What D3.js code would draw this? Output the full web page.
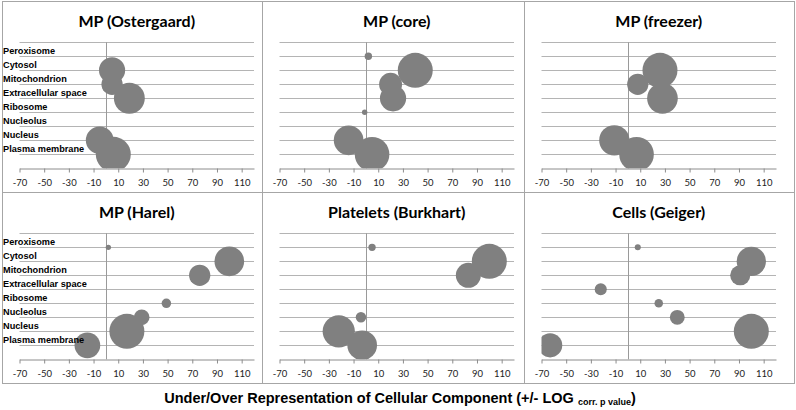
<!DOCTYPE html>
<html>
<head>
<meta charset="UTF-8">
<title>Under/Over Representation of Cellular Component</title>
<script src="https://d3js.org/d3.v7.min.js"></script>
<style>
  body { margin: 0; padding: 0; background: #fff; }
  .title { font-family: Lato, "Open Sans", sans-serif; font-weight: bold; font-size: 16px; fill: #000; }
  .tick text { font-family: Lato, sans-serif; font-size: 9.5px; fill: #222; }
  .cat { font-family: "Liberation Sans", Arial, sans-serif; font-weight: bold; font-size: 9.2px; fill: #000; }
  .axis-title { font-family: "Liberation Sans", Arial, sans-serif; font-weight: bold; font-size: 14.5px; fill: #000; }
</style>
</head>
<body>
<svg id="chart" width="796" height="410"></svg>
<script>
// categories from top to bottom, with their level on the y axis
const categories = ["Peroxisome", "Cytosol", "Mitochondrion", "Extracellular space",
                    "Ribosome", "Nucleolus", "Nucleus", "Plasma membrane"];
const catLevel = [8, 7, 6, 5, 4, 3, 2, 1];
const titles = ["MP (Ostergaard)", "MP (core)", "MP (freezer)",
                "MP (Harel)", "Platelets (Burkhart)", "Cells (Geiger)"];
const xTicks = [-70, -50, -30, -10, 10, 30, 50, 70, 90, 110];

// x = +/- log corr. p value, size = bubble size (null = not present)
const ostergaardX    = [null, 5, 5, 19, null, null, -5, 6];
const ostergaardSize = [null, 56, 37, 78, null, null, 63, 100];
const coreX          = [2, 40, 20, 22, -1, null, -14, 5];
const coreSize       = [4.5, 100, 43, 56, 2.4, null, 72, 98];
const freezerX       = [null, 26, 8, 28, null, null, -11, 7];
const freezerSize    = [null, 100, 37, 77, null, null, 75, 98];
const harelX         = [2, 100, 76, null, 49, 29, 17, -15];
const harelSize      = [2.3, 72, 37, null, 7.4, 20, 100, 54];
const plateletsX     = [5, 100, 83, null, null, -4, -22, -3];
const plateletsSize  = [4.4, 100, 51, null, null, 9, 85, 72];
const cellsX         = [8, 100, 91, -22, 25, 40, 100, -63];
const cellsSize      = [3, 70, 33, 12, 6, 18, 100, 48];

const panelX = [ostergaardX, coreX, freezerX, harelX, plateletsX, cellsX];
const panelSize = [ostergaardSize, coreSize, freezerSize, harelSize, plateletsSize, cellsSize];

const boxX = [2, 262, 524, 794];
const boxY = [1, 192, 383];
const plotW = 234.5, plotH = 126, maxR = 17.5;

const svg = d3.select("#chart");

titles.forEach((title, i) => {
    const col = i % 3, row = Math.floor(i / 3);
    const left = boxX[col] + 17.5;
    const top = boxY[row] + 41.3;

    const g = svg.append("g");

    g.append("rect")
        .attr("x", boxX[col] + 0.5).attr("y", boxY[row] + 0.5)
        .attr("width", boxX[col + 1] - boxX[col]).attr("height", boxY[row + 1] - boxY[row])
        .attr("fill", "none").attr("stroke", "#a6a6a6");

    const x = d3.scaleLinear().domain([-70, 120]).range([left, left + plotW]);
    const y = d3.scaleLinear().domain([0, 9]).range([top + plotH, top]);
    const r = d3.scaleSqrt().domain([0, d3.max(panelSize[i])]).range([0, maxR]);

    // gridlines
    g.selectAll(".grid")
        .data(d3.range(1, 10))
        .enter().append("line")
        .attr("x1", x(-70)).attr("x2", x(120))
        .attr("y1", d => Math.round(y(d)) + 0.5).attr("y2", d => Math.round(y(d)) + 0.5)
        .attr("stroke", "#b4b4b4");

    // zero line (value axis)
    g.append("line")
        .attr("x1", Math.round(x(0)) + 0.5).attr("x2", Math.round(x(0)) + 0.5)
        .attr("y1", y(9)).attr("y2", y(0))
        .attr("stroke", "#9a9a9a");

    const axis = g.append("g")
        .attr("transform", `translate(0,${Math.round(y(0)) + 0.5})`)
        .call(d3.axisBottom(x).tickValues(xTicks).tickFormat(d => String(d))
            .tickSize(4).tickSizeOuter(0).tickPadding(6.5));
    axis.select(".domain").attr("stroke", "#8c8c8c");
    axis.selectAll(".tick line").attr("stroke", "#8c8c8c");

    g.append("text")
        .attr("class", "title")
        .attr("x", left + plotW / 2)
        .attr("y", top - 15.5)
        .attr("text-anchor", "middle")
        .text(title);

    const clipId = "clip" + i;
    g.append("clipPath").attr("id", clipId)
        .append("rect")
        .attr("x", x(-70)).attr("y", y(9) - 20)
        .attr("width", plotW).attr("height", plotH + 20);

    const pts = categories.map((c, k) => ({ cat: c, level: catLevel[k], v: panelX[i][k], s: panelSize[i][k] }))
        .filter(d => d.v !== null);

    g.append("g")
        .attr("clip-path", `url(#${clipId})`)
        .selectAll("circle")
        .data(pts)
        .enter().append("circle")
        .attr("cx", d => x(d.v))
        .attr("cy", d => y(d.level))
        .attr("r", d => r(d.s))
        .attr("fill", "#808080");

    if (col === 0) {
        g.selectAll(".cat")
            .data(categories)
            .enter().append("text")
            .attr("class", "cat")
            .attr("x", boxX[col] + 1)
            .attr("y", (d, k) => y(catLevel[k]) - 2.5)
            .text(d => d);
    }
});

const at = svg.append("text")
    .attr("class", "axis-title")
    .attr("x", 400)
    .attr("y", 403)
    .attr("text-anchor", "middle");
at.append("tspan").text("Under/Over Representation of Cellular Component (+/- LOG ");
at.append("tspan").attr("font-size", "9px").attr("dy", 2).text("corr. p value");
at.append("tspan").attr("dy", -2).text(")");
</script>
</body>
</html>
